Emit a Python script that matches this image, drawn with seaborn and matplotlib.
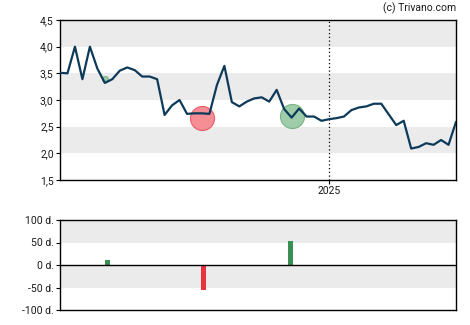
import numpy as np
import pandas as pd
import matplotlib
matplotlib.use("Agg")
import matplotlib.pyplot as plt
import seaborn as sns

# Weekly closing prices
start_date = "2024-04-24"
prices = [3.51, 3.50, 4.00, 3.39, 4.00, 3.59, 3.32, 3.39, 3.55, 3.61,
          3.56, 3.44, 3.44, 3.39, 2.72, 2.90, 3.00, 2.74, 2.75, 2.75,
          2.74, 3.28, 3.64, 2.96, 2.88, 2.97, 3.03, 3.05, 2.97, 3.19,
          2.83, 2.67, 2.84, 2.69, 2.69, 2.61, 2.64, 2.66, 2.69, 2.81,
          2.86, 2.88, 2.93, 2.93, 2.73, 2.53, 2.61, 2.09, 2.12, 2.19,
          2.16, 2.25, 2.16, 2.59]

# Signal markers: (week index, price level, kind, size)
signal_weeks = [6, 19, 31]
signal_levels = [3.40, 2.66, 2.70]
signal_kinds = ["buy", "sell", "buy"]
signal_sizes = [18, 300, 300]

# Holding period bars (days), placed by fractional week index
bar_weeks = [6.4, 19.2, 30.9]
bar_days = [12, -55, 54]

price_ticks = [1.5, 2.0, 2.5, 3.0, 3.5, 4.0, 4.5]
day_ticks = [-100, -50, 0, 50, 100]

dates = pd.date_range(start_date, periods=len(prices), freq="7D")
df = pd.DataFrame({"date": dates, "price": prices})
week = pd.Timedelta(days=7)
t0 = dates[0]

sns.set_theme(style="white")
plt.rcParams["font.family"] = ["Roboto", "DejaVu Sans"]

fig = plt.figure(figsize=(4.7, 3.25), dpi=100)
ax = fig.add_axes([60 / 470, 1 - 180 / 325, 396 / 470, 160 / 325])
ax2 = fig.add_axes([60 / 470, 1 - 310 / 325, 396 / 470, 90 / 325])

band = "#ebebeb"
for lo, hi in [(2.0, 2.5), (3.0, 3.5), (4.0, 4.5)]:
    ax.axhspan(lo, hi, color=band, lw=0, zorder=0)

colors = {"buy": ("#95c8a0", "#6fae80"), "sell": ("#f5828b", "#e8525e")}
for wk, lvl, kind, s in zip(signal_weeks, signal_levels, signal_kinds, signal_sizes):
    face, edge = colors[kind]
    ax.scatter([t0 + wk * week], [lvl], s=s, color=face, edgecolor=edge,
               linewidth=0.8, alpha=0.9, zorder=2)

sns.lineplot(data=df, x="date", y="price", ax=ax, color="#0e3a5a",
             linewidth=1.6, zorder=3)

jan = pd.Timestamp("2025-01-01")
ax.axvline(jan, color="black", linestyle=(0, (1, 2)), linewidth=0.9, zorder=1)

ax.set_xlim(dates[0], dates[-1])
ax.set_ylim(1.5, 4.5)
ax.set_yticks(price_ticks)
ax.set_yticklabels([f"{v:.1f}".replace(".", ",") for v in price_ticks])
ax.set_xticks([jan])
ax.set_xticklabels(["2025"])
ax.set_xlabel("")
ax.set_ylabel("")

# lower panel
for lo, hi in [(-50, 0), (50, 100)]:
    ax2.axhspan(lo, hi, color=band, lw=0, zorder=0)
bar_df = pd.DataFrame({"date": [t0 + w * week for w in bar_weeks], "days": bar_days})
for d, v in zip(bar_df["date"], bar_df["days"]):
    ax2.bar(d, v, width=pd.Timedelta(days=4.6), color="#3a8f55" if v > 0 else "#e8333f",
            linewidth=0, zorder=2)
ax2.axhline(0, color="black", linewidth=1.0, zorder=3)
ax2.set_xlim(dates[0], dates[-1])
ax2.set_ylim(-100, 100)
ax2.set_yticks(day_ticks)
ax2.set_yticklabels([f"{v} d." for v in day_ticks])
ax2.set_xticks([])

for a in (ax, ax2):
    for sp in a.spines.values():
        sp.set_color("black")
        sp.set_linewidth(1.0)
        sp.set_visible(True)
    a.tick_params(axis="both", which="both", length=3, width=0.8, color="black",
                  labelsize=7.5, labelcolor="#1a1a1a", pad=1.5, left=True, bottom=True)
ax2.tick_params(axis="x", length=0)

fig.text(456 / 470, 1 - 8 / 325, "(c) Trivano.com", ha="right", va="center",
         fontsize=7.5, color="#1a1a1a")

fig.savefig("out.png", dpi=100)
